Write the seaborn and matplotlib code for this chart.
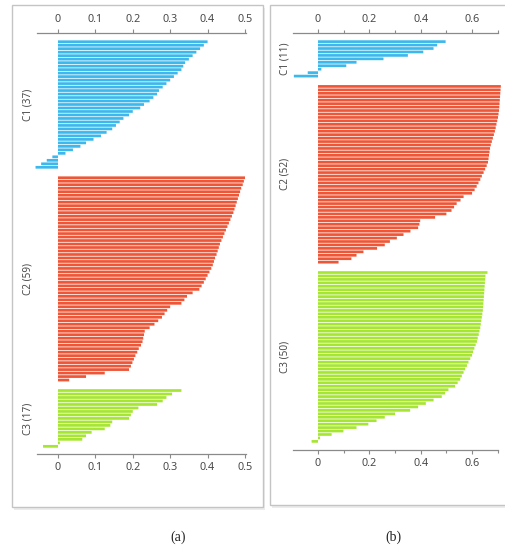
import numpy as np
import pandas as pd
import matplotlib
matplotlib.use("Agg")
import matplotlib.pyplot as plt
from matplotlib.patches import Rectangle
from matplotlib.ticker import MultipleLocator
import seaborn as sns

sns.set_style("white")
plt.rcParams["font.family"] = ["Noto Sans", "DejaVu Sans"]

# Silhouette widths per cluster, sorted within each cluster
a_c1 = [0.40, 0.39, 0.38, 0.37, 0.36, 0.35, 0.34, 0.335, 0.33, 0.32,
        0.31, 0.30, 0.29, 0.28, 0.27, 0.265, 0.255, 0.245, 0.23, 0.22,
        0.20, 0.19, 0.175, 0.165, 0.155, 0.145, 0.13, 0.115, 0.095, 0.075,
        0.06, 0.04, 0.02, -0.015, -0.03, -0.045, -0.06]
a_c2 = [0.500, 0.497, 0.494, 0.490, 0.487, 0.484, 0.481, 0.478, 0.475, 0.472,
        0.469, 0.465, 0.461, 0.457, 0.453, 0.449, 0.445, 0.441, 0.437, 0.433,
        0.430, 0.427, 0.424, 0.420, 0.417, 0.414, 0.410, 0.405, 0.400, 0.395,
        0.390, 0.384, 0.378, 0.360, 0.345, 0.338, 0.330, 0.300, 0.292, 0.285,
        0.278, 0.268, 0.258, 0.245, 0.232, 0.230, 0.228, 0.226, 0.222, 0.216,
        0.212, 0.207, 0.203, 0.199, 0.195, 0.190, 0.125, 0.075, 0.030]
a_c3 = [0.33, 0.305, 0.29, 0.28, 0.265, 0.215, 0.20, 0.195, 0.19, 0.145,
        0.14, 0.125, 0.09, 0.075, 0.065, 0.005, -0.04]

b_c1 = [0.497, 0.464, 0.45, 0.41, 0.35, 0.255, 0.15, 0.11, 0.013, -0.04, -0.094]
b_c2 = [0.712, 0.711, 0.710, 0.709, 0.708, 0.707, 0.706, 0.705, 0.703, 0.701,
        0.698, 0.695, 0.692, 0.689, 0.685, 0.681, 0.677, 0.673, 0.670, 0.668,
        0.666, 0.664, 0.662, 0.657, 0.651, 0.645, 0.638, 0.632, 0.625, 0.618,
        0.610, 0.600, 0.567, 0.555, 0.540, 0.530, 0.520, 0.500, 0.456, 0.398,
        0.395, 0.390, 0.360, 0.333, 0.307, 0.280, 0.260, 0.230, 0.177, 0.150,
        0.130, 0.080]
b_c3 = [0.660, 0.652, 0.651, 0.650, 0.649, 0.648, 0.647, 0.646, 0.645, 0.644,
        0.643, 0.642, 0.640, 0.638, 0.636, 0.634, 0.632, 0.629, 0.626, 0.622,
        0.619, 0.614, 0.609, 0.604, 0.600, 0.593, 0.586, 0.580, 0.573, 0.567,
        0.560, 0.554, 0.544, 0.534, 0.508, 0.495, 0.482, 0.450, 0.420, 0.390,
        0.359, 0.300, 0.260, 0.228, 0.196, 0.150, 0.099, 0.053, 0.008, -0.025]

cluster_names = ["C1", "C2", "C3"]
palette = {"C1": "#3DB8EC", "C2": "#EE5638", "C3": "#A6E632"}
GAP = 2


def silhouette_frame(groups):
    rows, vals, labs = [], [], []
    pos = 0
    centers = []
    for name, g in zip(cluster_names, groups):
        centers.append((name, len(g), pos + (len(g) - 1) / 2))
        for v in g:
            rows.append(pos)
            vals.append(v)
            labs.append(name)
            pos += 1
        pos += GAP
    return pd.DataFrame({"row": rows, "value": vals, "cluster": labs}), centers


W, H = 506, 548
fig = plt.figure(figsize=(W / 100, H / 100), dpi=100)

# panel frames, kept beneath the axes
for x0, x1, y0, y1 in [(12, 263, 5, 507), (270, 515, 5, 505)]:
    fig.patches.append(Rectangle((x0 / W + 0.004, 1 - (y1 + 3) / H), (x1 - x0) / W, (y1 - y0) / H,
                                 transform=fig.transFigure, facecolor="#ececec",
                                 edgecolor="none", zorder=-3))
    fig.patches.append(Rectangle((x0 / W, 1 - y1 / H), (x1 - x0) / W, (y1 - y0) / H,
                                 transform=fig.transFigure, facecolor="white",
                                 edgecolor="#c4c4c4", linewidth=1.0, zorder=-2))

panels = [
    dict(groups=[a_c1, a_c2, a_c3], px=(37, 246), py=(33, 454), xlim=(-0.0561, 0.5027),
         major=0.1, minor=None, ylim=(118.2, -2.5), lab_x=-0.043),
    dict(groups=[b_c1, b_c2, b_c3], px=(293, 498), py=(33, 450), xlim=(-0.0974, 0.701),
         major=0.2, minor=0.1, ylim=(118.5, -2.5), lab_x=-0.04),
]

for p in panels:
    df, centers = silhouette_frame(p["groups"])
    ax = fig.add_axes([p["px"][0] / W, 1 - p["py"][1] / H,
                       (p["px"][1] - p["px"][0]) / W, (p["py"][1] - p["py"][0]) / H])
    ax.set_zorder(1)
    ax.patch.set_alpha(0)
    sns.barplot(data=df, x="value", y="row", hue="cluster", palette=palette,
                orient="h", native_scale=True, dodge=False, legend=False,
                width=0.78, linewidth=0, saturation=1, ax=ax)
    for bar in ax.patches:
        bar.set_clip_on(False)
        bar.set_snap(False)
    ax.set_xlim(*p["xlim"])
    ax.set_ylim(*p["ylim"])
    ax.set_xlabel("")
    ax.set_ylabel("")
    ax.set_yticks([])
    ax.xaxis.set_major_locator(MultipleLocator(p["major"]))
    if p["minor"]:
        ax.xaxis.set_minor_locator(MultipleLocator(p["minor"]))
    ax.xaxis.set_major_formatter(plt.FuncFormatter(lambda v, _: f"{v:g}" if abs(v) > 1e-9 else "0"))
    for side in ["left", "right"]:
        ax.spines[side].set_visible(False)
    for side in ["top", "bottom"]:
        ax.spines[side].set_visible(True)
        ax.spines[side].set_color("#8a8a8a")
        ax.spines[side].set_linewidth(0.9)
    ax.tick_params(axis="x", which="both", top=True, bottom=True, labeltop=True,
                   labelbottom=True, direction="out", color="#8a8a8a",
                   labelcolor="#4a4a4a", labelsize=7.8, pad=3)
    ax.tick_params(axis="x", which="major", length=3, width=0.8)
    ax.tick_params(axis="x", which="minor", length=2.5, width=0.8)
    for name, n, c in centers:
        ax.text(p["lab_x"], c, f"{name} ({n})", transform=ax.get_yaxis_transform(),
                rotation=90, ha="center", va="center", fontsize=7.2, color="#4a4a4a")

fig.text(178 / W, 1 - 537 / H, "(a)", ha="center", va="center",
         fontsize=10, family="Liberation Serif", color="#222222")
fig.text(393 / W, 1 - 537 / H, "(b)", ha="center", va="center",
         fontsize=10, family="Liberation Serif", color="#222222")

fig.savefig("out.png", dpi=100)
